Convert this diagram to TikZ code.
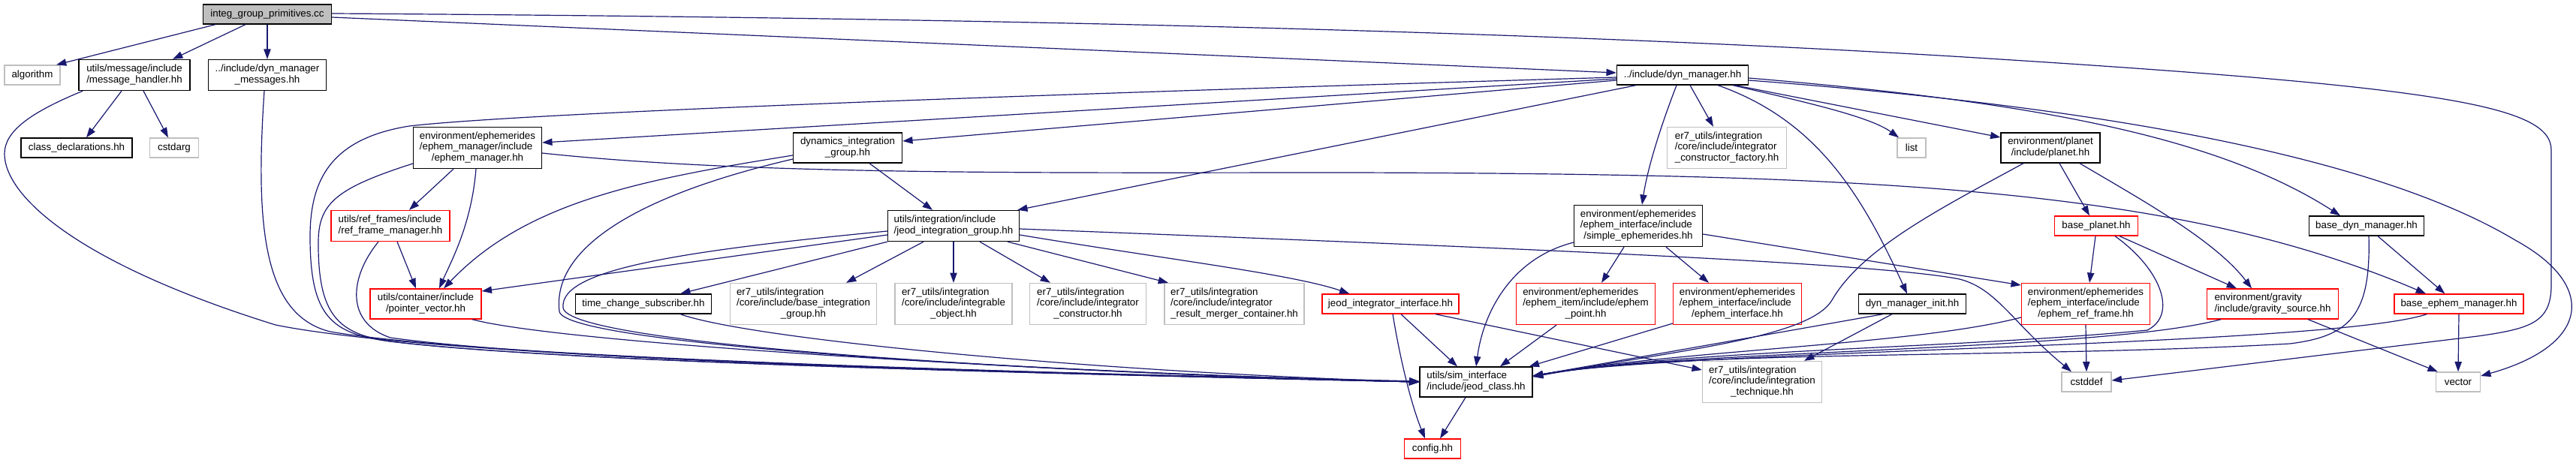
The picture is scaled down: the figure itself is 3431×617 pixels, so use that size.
\documentclass[tikz,border=0pt]{standalone}
\usepackage{fontspec}
\setmainfont{Liberation Sans}
\usetikzlibrary{arrows.meta,calc}
\definecolor{edgeblue}{HTML}{191970}
\definecolor{gvgray}{HTML}{BFBFBF}
\definecolor{gvred}{HTML}{FF0000}
\newcommand\twol[2]{\begin{tabular}{@{}l@{}}#1\\\multicolumn{1}{@{}c@{}}{#2}\end{tabular}}
\newcommand\threel[3]{\begin{tabular}{@{}l@{}}#1\\#2\\\multicolumn{1}{@{}c@{}}{#3}\end{tabular}}
\begin{document}
\begin{tikzpicture}[x=0.75pt,y=-0.75pt,
  sz/.style 2 args={minimum width=#1*0.75pt,minimum height=#2*0.75pt},
  gvbase/.style={rectangle,inner sep=0pt,line width=1pt,font={\fontsize{10}{10.9}\selectfont}},
  nbox/.style={gvbase,draw=black},
  rbox/.style={gvbase,draw=gvred},
  gbox/.style={gvbase,draw=gvgray},
  rootbox/.style={gvbase,draw=black,fill=gvgray},
  dep/.style={draw=edgeblue,line width=0.9pt,-{Triangle[length=10pt,width=7pt]}}]
\useasboundingbox (0,0) rectangle (3431,617);
\fill[white] (0,0) rectangle (3431,617);
% ---------------- nodes ----------------
\node[rootbox,sz={171}{26}] (root) at (356,19) {integ\_group\_primitives.cc};
\node[gbox,sz={74}{26}] (algorithm) at (43,100) {algorithm};
\node[nbox,sz={148}{41}] (msgh) at (179,100) {\twol{utils/message/include}{/message\_handler.hh}};
\node[nbox,sz={157}{41}] (dmm) at (356,100) {\twol{../include/dyn\_manager}{\_messages.hh}};
\node[nbox,sz={148}{26}] (cdecl) at (102,197) {class\_declarations.hh};
\node[gbox,sz={65}{26}] (cstdarg) at (232,197) {cstdarg};
\node[nbox,sz={171}{55}] (ephm) at (636,197) {\threel{environment/ephemerides}{/ephem\_manager/include}{/ephem\_manager.hh}};
\node[rbox,sz={158}{41}] (rfm) at (520,301) {\twol{utils/ref\_frames/include}{/ref\_frame\_manager.hh}};
\node[rbox,sz={148}{40}] (pv) at (567,405) {\twol{utils/container/include}{/pointer\_vector.hh}};
\node[nbox,sz={181}{26}] (tcs) at (857,405) {time\_change\_subscriber.hh};
\node[nbox,sz={145}{40}] (dig) at (1129,197) {\twol{dynamics\_integration}{\_group.hh}};
\node[nbox,sz={175}{41}] (jig) at (1270,301) {\twol{utils/integration/include}{/jeod\_integration\_group.hh}};
\node[gbox,sz={195}{55}] (big) at (1070,405) {\threel{er7\_utils/integration}{/core/include/base\_integration}{\_group.hh}};
\node[gbox,sz={156}{55}] (io) at (1270,405) {\threel{er7\_utils/integration}{/core/include/integrable}{\_object.hh}};
\node[gbox,sz={155}{55}] (ic) at (1449,405) {\threel{er7\_utils/integration}{/core/include/integrator}{\_constructor.hh}};
\node[gbox,sz={186}{55}] (irmc) at (1644,405) {\threel{er7\_utils/integration}{/core/include/integrator}{\_result\_merger\_container.hh}};
\node[rbox,sz={182}{26}] (jii) at (1852,405) {jeod\_integrator\_interface.hh};
\node[nbox,sz={175}{26}] (dm) at (2241,100) {../include/dyn\_manager.hh};
\node[gbox,sz={159}{55}] (icf) at (2300,197) {\threel{er7\_utils/integration}{/core/include/integrator}{\_constructor\_factory.hh}};
\node[gbox,sz={38}{26}] (list) at (2546,197) {list};
\node[nbox,sz={132}{40}] (planet) at (2731,197) {\twol{environment/planet}{/include/planet.hh}};
\node[nbox,sz={171}{55}] (se) at (2182,301) {\threel{environment/ephemerides}{/ephem\_interface/include}{/simple\_ephemerides.hh}};
\node[rbox,sz={185}{55}] (ep) at (2112,405) {\threel{environment/ephemerides}{/ephem\_item/include/ephem}{\_point.hh}};
\node[rbox,sz={171}{55}] (ei) at (2314,405) {\threel{environment/ephemerides}{/ephem\_interface/include}{/ephem\_interface.hh}};
\node[nbox,sz={143}{26}] (dmi) at (2547,405) {dyn\_manager\_init.hh};
\node[nbox,sz={150}{40}] (jc) at (1966,509) {\twol{utils/sim\_interface}{/include/jeod\_class.hh}};
\node[gbox,sz={159}{55}] (it) at (2347,509) {\threel{er7\_utils/integration}{/core/include/integration}{\_technique.hh}};
\node[rbox,sz={75}{26}] (config) at (1908,598) {config.hh};
\node[rbox,sz={111}{26}] (bp) at (2792,301) {base\_planet.hh};
\node[nbox,sz={153}{26}] (bdm) at (3152,301) {base\_dyn\_manager.hh};
\node[rbox,sz={171}{55}] (erf) at (2778,405) {\threel{environment/ephemerides}{/ephem\_interface/include}{/ephem\_ref\_frame.hh}};
\node[rbox,sz={175}{40}] (gs) at (3027,405) {\twol{environment/gravity}{/include/gravity\_source.hh}};
\node[rbox,sz={172}{26}] (bem) at (3275,405) {base\_ephem\_manager.hh};
\node[gbox,sz={66}{26}] (cstddef) at (2779,509) {cstddef};
\node[gbox,sz={59}{26}] (vector) at (3274,509) {vector};
% ---------------- edges ----------------
% root
\draw[dep] ($(root.south)+(-69,0)$) -- ($(algorithm.north)+(32,0)$);
\draw[dep] ($(root.south)+(-29,0)$) -- ($(msgh.north)+(51,0)$);
\draw[dep] (root.south) -- (dmm.north);
\draw[dep] ($(root.east)+(0,4)$) -- ($(dm.west)+(0,-3)$);
\draw[dep] ($(root.east)+(0,-1)$) .. controls (1400,24) and (2100,45) .. (2600,75) .. controls (3250,115) and (3398,140) .. (3398,200) -- (3398,380) .. controls (3398,430) and (3370,438) .. (3300,448) -- ($(cstddef.east)+(0,-2)$);
% message handler
\draw[dep] ($(msgh.south)+(-17,0)$) -- ($(cdecl.north)+(13,0)$);
\draw[dep] ($(msgh.south)+(12,0)$) -- ($(cstdarg.north)+(-8,0)$);
\draw[dep] ($(msgh.south west)+(6,0)$) .. controls (40,150) and (6,175) .. (6,205) .. controls (6,260) and (100,350) .. (367,433) .. controls (600,480) and (1400,497) .. ($(jc.west)+(0,-1)$);
% dyn manager messages
\draw[dep] ($(dmm.south)+(-4,0)$) .. controls (340,300) and (350,420) .. (440,442) .. controls (650,478) and (1400,497) .. (jc.west);
% ephem manager
\draw[dep] ($(ephm.west)+(0,21)$) .. controls (450,250) and (425,270) .. (424,320) .. controls (423,420) and (450,445) .. (520,455) .. controls (750,483) and (1400,498) .. (jc.west);
\draw[dep] ($(ephm.south)+(-32,0)$) -- ($(rfm.north)+(25,0)$);
\draw[dep] ($(ephm.south)+(-2,0)$) .. controls (628,300) and (600,350) .. ($(pv.north)+(18,0)$);
\draw[dep] ($(ephm.east)+(0,7)$) .. controls (1000,234) and (1400,230) .. (1800,230) .. controls (2500,232) and (2900,250) .. ($(bem.north)+(-44,0)$);
% ref frame manager
\draw[dep] ($(rfm.south)+(9,0)$) -- ($(pv.north)+(-13,0)$);
\draw[dep] ($(rfm.south)+(-16,0)$) .. controls (465,370) and (460,430) .. (520,450) .. controls (750,482) and (1400,498) .. (jc.west);
% pointer vector
\draw[dep] ($(pv.south)+(62,0)$) .. controls (750,458) and (1400,496) .. (jc.west);
% dynamics integration group
\draw[dep] ($(dig.west)+(0,10)$) .. controls (850,240) and (700,270) .. ($(pv.north)+(24,0)$);
\draw[dep] ($(dig.west)+(0,15)$) .. controls (850,260) and (735,330) .. (745,415) .. controls (752,460) and (1400,497) .. (jc.west);
\draw[dep] ($(dig.south)+(29,0)$) -- ($(jig.north)+(-28,0)$);
% dyn manager
\draw[dep] ($(dm.west)+(0,3)$) .. controls (1400,125) and (700,150) .. (545,168) .. controls (440,185) and (412,240) .. (413,320) .. controls (414,420) and (440,445) .. (520,455) .. controls (750,483) and (1400,498) .. (jc.west);
\draw[dep] ($(dm.west)+(0,5)$) -- ($(ephm.east)+(0,-7)$);
\draw[dep] ($(dm.west)+(0,7)$) -- ($(dig.east)+(0,-9)$);
\draw[dep] ($(dm.south)+(-62,0)$) -- ($(jig.north east)+(-3,0)$);
\draw[dep] ($(dm.south)+(-8,0)$) .. controls (2215,160) and (2195,220) .. ($(se.north)+(5,0)$);
\draw[dep] ($(dm.south)+(10,0)$) -- ($(icf.north)+(-18,0)$);
\draw[dep] ($(dm.south)+(47,0)$) .. controls (2420,160) and (2480,260) .. ($(dmi.north)+(-7,0)$);
\draw[dep] ($(dm.south)+(67,0)$) .. controls (2400,135) and (2490,155) .. ($(list.north)+(-17,0)$);
\draw[dep] ($(dm.south)+(70,0)$) -- ($(planet.west)+(0,-14)$);
\draw[dep] ($(dm.east)+(0,4)$) .. controls (2700,135) and (2950,180) .. ($(bdm.north)+(-35,0)$);
\draw[dep] ($(dm.east)+(0,7)$) .. controls (2900,150) and (3200,230) .. (3350,320) .. controls (3460,380) and (3450,460) .. ($(vector.east)+(0,-8)$);
% simple ephemerides
\draw[dep] ($(se.west)+(0,22)$) .. controls (2010,345) and (1975,420) .. (jc.north);
\draw[dep] ($(se.south)+(-19,0)$) -- ($(ep.north)+(21,0)$);
\draw[dep] ($(se.south)+(37,0)$) -- ($(ei.north)+(-38,0)$);
\draw[dep] ($(se.east)+(0,11)$) -- ($(erf.west)+(0,-25)$);
% jeod integration group
\draw[dep] ($(jig.west)+(0,12)$) -- ($(pv.east)+(0,-17)$);
\draw[dep] ($(jig.west)+(0,7)$) .. controls (900,335) and (745,360) .. (750,410) .. controls (755,460) and (1400,497) .. (jc.west);
\draw[dep] (jig.south west) -- ($(tcs.north east)+(-42,0)$);
\draw[dep] ($(jig.south)+(-40,0)$) -- ($(big.north)+(57,0)$);
\draw[dep] (jig.south) -- (io.north);
\draw[dep] ($(jig.south)+(35,0)$) -- ($(ic.north)+(-50,0)$);
\draw[dep] ($(jig.south)+(72,0)$) -- ($(irmc.north)+(-88,0)$);
\draw[dep] ($(jig.east)+(0,12)$) .. controls (1550,345) and (1720,365) .. ($(jii.north west)+(37,0)$);
\draw[dep] ($(jig.east)+(0,4)$) .. controls (2000,330) and (2500,350) .. (2610,372) .. controls (2660,385) and (2680,430) .. ($(cstddef.north)+(-20,0)$);
% time change subscriber
\draw[dep] ($(tcs.south east)+(-42,0)$) .. controls (1000,452) and (1450,495) .. (jc.west);
% jeod integrator interface
\draw[dep] ($(jii.south)+(14,0)$) -- ($(jc.north)+(-25,0)$);
\draw[dep] ($(jii.south)+(3,0)$) .. controls (1865,480) and (1880,540) .. ($(config.north)+(-10,0)$);
\draw[dep] ($(jii.south)+(60,0)$) -- ($(it.west)+(0,-16)$);
% ephem point / interface
\draw[dep] ($(ep.south)+(-39,0)$) -- ($(jc.north)+(32,0)$);
\draw[dep] ($(ei.west)+(0,26)$) -- ($(jc.north east)+(-5,0)$);
% dyn manager init
\draw[dep] ($(dmi.south west)+(33,0)$) -- ($(jc.east)+(0,-8)$);
\draw[dep] ($(dmi.south)+(-27,0)$) -- ($(it.north)+(56,0)$);
% planet
\draw[dep] ($(planet.south)+(-36,0)$) .. controls (2590,275) and (2480,330) .. (2440,400) .. controls (2410,450) and (2240,466) .. ($(jc.east)+(0,-7)$);
\draw[dep] ($(planet.south)+(12,0)$) -- ($(bp.north)+(-9,0)$);
\draw[dep] ($(planet.south)+(39,0)$) .. controls (2850,265) and (2950,320) .. ($(gs.north)+(-28,0)$);
% base planet
\draw[dep] ($(bp.south)+(-1,0)$) -- ($(erf.north)+(5,0)$);
\draw[dep] ($(bp.south)+(31,0)$) -- ($(gs.north)+(-48,0)$);
\draw[dep] ($(bp.south)+(25,0)$) .. controls (2880,360) and (2900,420) .. (2860,440) .. controls (2600,465) and (2240,466) .. ($(jc.east)+(0,-7)$);
% ephem ref frame
\draw[dep] ($(erf.west)+(0,18)$) .. controls (2550,460) and (2240,466) .. ($(jc.east)+(0,-8)$);
\draw[dep] (erf.south) -- (cstddef.north);
% gravity source
\draw[dep] ($(gs.south west)+(19,0)$) .. controls (2800,468) and (2240,466) .. ($(jc.east)+(0,-8)$);
\draw[dep] ($(gs.south)+(47,0)$) -- ($(vector.north west)+(3,0)$);
% base ephem manager
\draw[dep] ($(bem.south west)+(44,0)$) .. controls (3100,462) and (2240,466) .. ($(jc.east)+(0,-8)$);
\draw[dep] (bem.south) -- (vector.north);
% base dyn manager
\draw[dep] ($(bdm.south)+(3,0)$) .. controls (3158,420) and (3130,448) .. (3050,458) .. controls (2700,478) and (2240,466) .. ($(jc.east)+(0,-8)$);
\draw[dep] ($(bdm.south)+(15,0)$) -- ($(bem.north west)+(68,0)$);
% jeod class
\draw[dep] ($(jc.south)+(-14,0)$) -- ($(config.north)+(10,0)$);
\end{tikzpicture}
\end{document}
